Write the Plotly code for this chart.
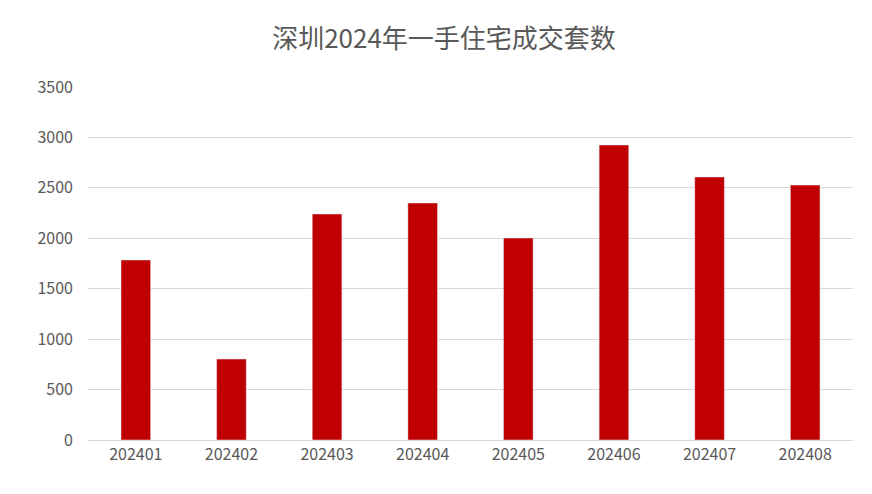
import plotly.graph_objects as go

months = ["202401", "202402", "202403", "202404", "202405", "202406", "202407", "202408"]
units_sold = [1785, 803, 2241, 2350, 2003, 2925, 2608, 2528]

fig = go.Figure()
fig.add_trace(go.Bar(x=months, y=units_sold, marker_color="#C00000", width=0.31))

fig.update_layout(
    width=872, height=494,
    title=dict(text="深圳2024年一手住宅成交套数", x=0.5, y=0.955, xanchor="center",
               font=dict(size=26, color="#595959", family="Noto Sans CJK SC")),
    font=dict(family="Noto Sans CJK SC, Calibri, sans-serif", size=16, color="#595959"),
    margin=dict(l=80, r=27, t=79, b=62),
    plot_bgcolor="white", paper_bgcolor="white",
    showlegend=False,
)
fig.update_xaxes(type="category", showline=True, linecolor="#D9D9D9", ticks="")
fig.update_yaxes(range=[0, 3500], dtick=500, gridcolor="#D9D9D9", zeroline=False, ticks="", ticklabelstandoff=14)

fig.write_html("out.html")
